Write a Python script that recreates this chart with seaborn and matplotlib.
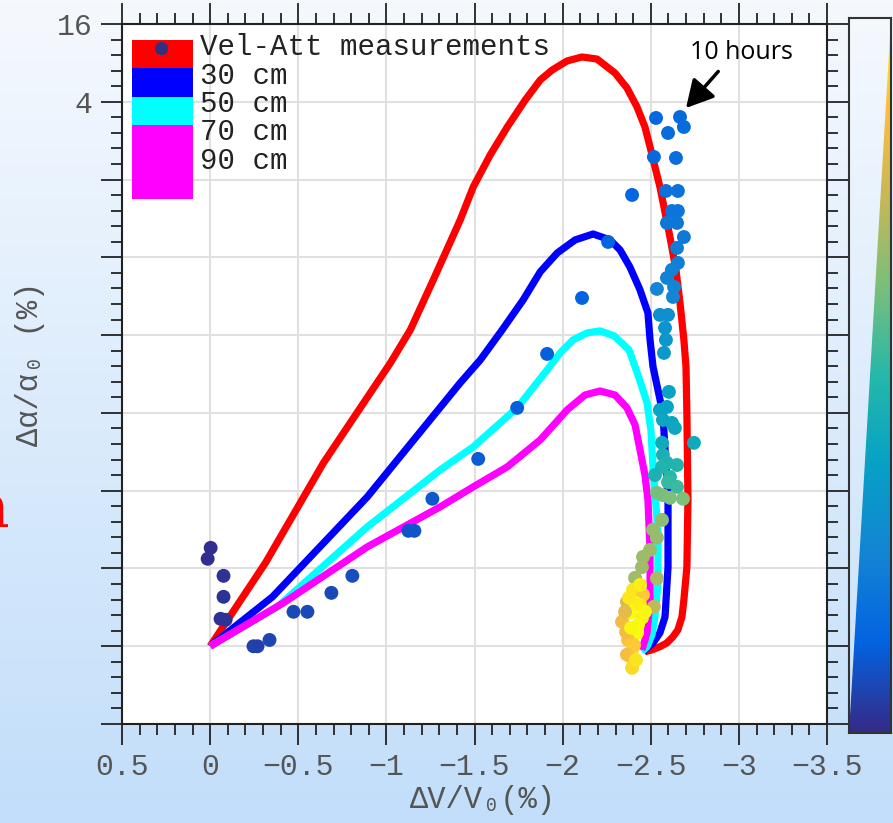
import numpy as np
import matplotlib
matplotlib.use("Agg")
import matplotlib.pyplot as plt
from matplotlib.colors import LinearSegmentedColormap
from matplotlib.patches import Rectangle, Polygon
from matplotlib.ticker import FixedLocator, FixedFormatter
import seaborn as sns

plt.rcParams['font.family'] = ['Liberation Mono', 'DejaVu Sans Mono']

W, H = 893, 823

# ---- model curves (dV/V0 in %, da/a0 in %) ----
red_x = [0.0, -0.314, -0.643, -1.023, -1.136, -1.266, -1.419, -1.493, -1.589, -1.686,
         -1.788, -1.873, -1.941, -2.025, -2.110, -2.195, -2.297, -2.365, -2.422, -2.467,
         -2.496, -2.552, -2.609, -2.643, -2.666, -2.688, -2.700, -2.705, -2.711, -2.705,
         -2.688, -2.677, -2.654, -2.626, -2.592, -2.552, -2.507, -2.467]
red_y = [2.44e-4, 1.08e-3, 6.41e-3, 0.0381, 0.0686, 0.167, 0.487, 0.877, 1.550, 2.553,
         4.13, 5.90, 7.05, 8.28, 8.89, 8.57, 6.68, 5.12, 3.65, 2.553,
         1.79, 0.877, 0.359, 0.200, 0.111, 0.0574, 0.0355, 0.0155, 3.31e-3, 1.0e-3,
         5.58e-4, 4.12e-4, 3.27e-4, 2.89e-4, 2.59e-4, 2.42e-4, 2.29e-4, 2.21e-4]

blue_x = [0.0, -0.354, -0.892, -1.419, -1.533, -1.657, -1.776, -1.873, -1.969, -2.071,
          -2.173, -2.269, -2.326, -2.382, -2.439, -2.484, -2.496, -2.513, -2.569, -2.598,
          -2.598, -2.581, -2.552, -2.513, -2.456]
blue_y = [2.44e-4, 5.89e-4, 3.50e-3, 0.0267, 0.0402, 0.0686, 0.117, 0.193, 0.270, 0.341,
          0.379, 0.341, 0.285, 0.210, 0.140, 0.0929, 0.0574, 0.0355, 0.0155, 3.31e-3,
          1.0e-3, 4.12e-4, 3.10e-4, 2.59e-4, 2.21e-4]

cyan_x = [0.0, -0.382, -0.892, -1.306, -1.493, -1.742, -1.912, -1.986, -2.059, -2.139,
          -2.212, -2.292, -2.377, -2.433, -2.479, -2.501, -2.513, -2.541, -2.541, -2.524,
          -2.507, -2.479, -2.450]
cyan_y = [2.44e-4, 4.93e-4, 2.05e-3, 5.66e-3, 8.53e-3, 0.0171, 0.0336, 0.0455, 0.0574, 0.0650,
          0.0674, 0.0617, 0.0480, 0.0292, 0.0187, 0.0115, 5.97e-3, 1.84e-3, 7.56e-4, 4.12e-4,
          2.99e-4, 2.42e-4, 2.21e-4]

mag_x = [0.0, -0.416, -0.892, -1.306, -1.493, -1.686, -1.873, -2.026, -2.127, -2.212,
         -2.297, -2.365, -2.411, -2.439, -2.467, -2.484, -2.496, -2.496, -2.479, -2.450]
mag_y = [2.44e-4, 5.29e-4, 1.435e-3, 2.93e-3, 4.18e-3, 5.97e-3, 9.66e-3, 0.0165, 0.0215, 0.0231,
         0.0215, 0.0171, 0.0126, 8.09e-3, 5.16e-3, 3.31e-3, 1.36e-3, 5.58e-4, 3.10e-4, 2.29e-4]

# ---- velocity-attenuation measurements, coloured by elapsed time (0..1) ----
meas_x = [-0.003, 0.014, -0.076, -0.076, -0.059, -0.088,
          -0.246, -0.269, -0.337, -0.473, -0.552, -0.688, -0.807, -1.125, -1.159, -1.261,
          -1.521, -1.742, -1.912, -2.110, -2.258, -2.394,
          -2.530, -2.666, -2.688, -2.598, -2.518, -2.643, -2.586, -2.654, -2.620, -2.654,
          -2.592, -2.649, -2.688, -2.649, -2.654, -2.620, -2.592, -2.632, -2.535, -2.626,
          -2.552, -2.598, -2.581, -2.586, -2.575,
          -2.603, -2.552, -2.592, -2.569, -2.620, -2.637, -2.564, -2.745, -2.569, -2.592,
          -2.649, -2.564, -2.524, -2.609, -2.598, -2.649,
          -2.535, -2.569, -2.609, -2.683,
          -2.564, -2.513, -2.535, -2.496, -2.456, -2.450, -2.411, -2.535, -2.518,
          -2.399, -2.456, -2.365, -2.411, -2.382, -2.450, -2.337, -2.422, -2.371, -2.394,
          -2.399, -2.394, -2.439, -2.360, -2.405, -2.365, -2.428, -2.377,
          -2.439, -2.354, -2.416, -2.467, -2.388]
meas_y = [1.41e-3, 1.16e-3, 8.56e-4, 5.89e-4, 3.98e-4, 3.91e-4,
          2.44e-4, 2.44e-4, 2.73e-4, 4.51e-4, 4.51e-4, 6.32e-4, 8.56e-4, 1.91e-3, 1.91e-3, 3.38e-3,
          6.88e-3, 0.01709, 0.0447, 0.1212, 0.329, 0.760,
          2.998, 3.05, 2.553, 2.294, 1.496, 1.469, 0.816, 0.816, 0.571, 0.571,
          0.4615, 0.4615, 0.359, 0.2958, 0.2263, 0.1999, 0.1733, 0.1475, 0.1424, 0.1234,
          0.0896, 0.0896, 0.0711, 0.0574, 0.0455,
          0.02273, 0.01649, 0.01738, 0.01379, 0.01307, 0.01194, 0.00916, 0.00916, 0.00739, 0.00641,
          0.00617, 0.00597, 0.00516, 0.00499, 0.00455, 0.00418,
          0.00376, 0.00360, 0.00344, 0.00338,
          0.00232, 0.00195, 0.00169, 0.00136, 0.00120, 0.00100, 8.26e-4, 8.2e-4, 4.93e-4,
          6.67e-4, 6.10e-4, 5.38e-4, 5.29e-4, 4.43e-4, 4.05e-4, 3.78e-4, 3.10e-4, 2.73e-4, 2.29e-4,
          1.91e-4, 1.66e-4, 5.10e-4, 3.15e-4, 2.49e-4, 2.10e-4, 3.58e-4, 5.79e-4,
          7.28e-4, 4.51e-4, 1.91e-4, 4.51e-4, 3.39e-4]
meas_t = [0.01, 0.01, 0.02, 0.02, 0.02, 0.02,
          0.05, 0.05, 0.06, 0.07, 0.07, 0.07, 0.08, 0.09, 0.09, 0.10,
          0.11, 0.12, 0.12, 0.13, 0.13, 0.14,
          0.14, 0.15, 0.16, 0.16, 0.15, 0.17, 0.18, 0.18, 0.19, 0.19,
          0.20, 0.20, 0.21, 0.22, 0.23, 0.24, 0.24, 0.25, 0.25, 0.26,
          0.30, 0.30, 0.32, 0.33, 0.34,
          0.38, 0.39, 0.39, 0.40, 0.40, 0.41, 0.42, 0.42, 0.45, 0.47,
          0.48, 0.48, 0.46, 0.50, 0.52, 0.53,
          0.62, 0.62, 0.63, 0.63,
          0.66, 0.67, 0.67, 0.68, 0.68, 0.69, 0.69, 0.70, 0.74,
          0.95, 0.90, 0.78, 1.00, 1.00, 0.98, 0.85, 1.00, 0.88, 0.92,
          0.93, 0.93, 0.97, 0.85, 0.90, 0.86, 1.00, 0.96,
          0.97, 0.82, 0.95, 0.99, 0.99]

x_ticks = [0.5, 0.0, -0.5, -1.0, -1.5, -2.0, -2.5, -3.0, -3.5]
x_labels = ['0.5', '0', '\u22120.5', '\u22121', '\u22121.5', '\u22122', '\u22122.5', '\u22123', '\u22123.5']
y_exps = list(range(-7, 3))
y_labels = [''] * 8 + ['4', '16']

legend_labels = ['Vel-Att measurements', '30 cm', '50 cm', '70 cm', '90 cm']

parula = LinearSegmentedColormap.from_list('parula', [
    (0.000, (0.208, 0.166, 0.529)),
    (0.125, (0.012, 0.388, 0.882)),
    (0.250, (0.078, 0.520, 0.831)),
    (0.375, (0.024, 0.631, 0.776)),
    (0.500, (0.149, 0.722, 0.666)),
    (0.625, (0.478, 0.749, 0.482)),
    (0.750, (0.780, 0.722, 0.341)),
    (0.875, (0.990, 0.745, 0.240)),
    (1.000, (0.976, 0.983, 0.054)),
])

fig = plt.figure(figsize=(W / 100, H / 100), dpi=100)


def fx(px):
    return px / W


def fy(py):
    return 1 - py / H


# soft vertical background gradient
bg = fig.add_axes([0, 0, 1, 1], zorder=-10)
bg.imshow(np.linspace(0, 1, 256).reshape(-1, 1), aspect='auto', origin='upper',
          extent=[0, 1, 0, 1],
          cmap=LinearSegmentedColormap.from_list('bg', ['#f5f9fe', '#c2defa']))
bg.set_axis_off()

ax = fig.add_axes([fx(122), fy(724), (827 - 122) / W, (724 - 24) / H])
ax.set_facecolor('white')

for xs, ys, col in [(red_x, red_y, '#ff0000'), (blue_x, blue_y, '#0000ff'),
                    (cyan_x, cyan_y, '#00ffff'), (mag_x, mag_y, '#ff00ff')]:
    sns.lineplot(x=xs, y=ys, sort=False, estimator=None, color=col, lw=5.2,
                 solid_capstyle='butt', solid_joinstyle='round', ax=ax, zorder=3)

sns.scatterplot(x=meas_x, y=meas_y, hue=meas_t, palette=parula, hue_norm=(0, 1),
                s=100, linewidth=0, legend=False, ax=ax, zorder=5)

ax.set_yscale('log', base=4)
ax.set_xlim(0.5, -3.5)
ax.set_ylim(4.0 ** -7, 16)

ax.xaxis.set_major_locator(FixedLocator(x_ticks))
ax.xaxis.set_major_formatter(FixedFormatter(x_labels))
ax.xaxis.set_minor_locator(FixedLocator(np.round(np.arange(-3.5, 0.51, 0.1), 2)))
ax.yaxis.set_major_locator(FixedLocator([4.0 ** k for k in y_exps]))
ax.yaxis.set_major_formatter(FixedFormatter(y_labels))
ax.yaxis.set_minor_locator(FixedLocator([4.0 ** (k + j / 5) for k in y_exps[:-1] for j in range(1, 5)]))
ax.yaxis.set_minor_formatter(FixedFormatter([]))

ax.tick_params(which='major', direction='out', length=15, width=1.3, color='#222222',
               top=True, right=True, labelsize=21.5, labelcolor='#555555', pad=6)
ax.tick_params(which='minor', direction='out', length=8, width=1.3, color='#222222',
               top=True, right=True)
ax.grid(which='major', color='#e0e0e0', lw=1.5)
ax.set_axisbelow(True)
for s in ax.spines.values():
    s.set_color('#222222')
    s.set_linewidth(1.5)
ax.set_xlabel('')
ax.set_ylabel('')

# axis titles
fig.text(fx(483), fy(800), '\u0394V/V\u2080(%)', ha='center', va='center',
         fontsize=22, color='#555555')
fig.text(fx(30), fy(364), '\u0394\u03b1/\u03b1\u2080 (%)', ha='center', va='center',
         rotation=90, fontsize=22, color='#555555')

# legend block
sw_colors = ['#ff0000', '#0000ff', '#00ffff', '#ff00ff']
sw_edges = [40, 68, 97, 125, 199]
for i, col in enumerate(sw_colors):
    ax.add_patch(Rectangle((fx(132), fy(sw_edges[i + 1])), (193 - 132) / W,
                           (sw_edges[i + 1] - sw_edges[i]) / H,
                           transform=fig.transFigure, color=col, lw=0, zorder=8))
ax.plot([fx(161)], [fy(48)], 'o', ms=8.5, color='#33307f', transform=fig.transFigure,
        zorder=9)
for i, lab in enumerate(legend_labels):
    fig.text(fx(200), fy(55 + 28.5 * i), lab, ha='left', va='baseline', fontsize=21,
             color='#222222')

ax.annotate('10 hours', xy=(-2.700, 3.58), xytext=(-3.017, 9.71), textcoords='data',
            ha='center', va='center', fontsize=18, family=['Open Sans', 'DejaVu Sans'],
            color='black',
            arrowprops=dict(arrowstyle='-|>,head_width=0.5,head_length=0.92', color='black',
                            lw=2.5, shrinkA=4, shrinkB=0, relpos=(0.33, 0.0)))

# clipped glyph at the left edge
fig.text(fx(10), fy(527), 'n', color='red', fontsize=42, family='DejaVu Serif',
         ha='right', va='baseline')

# wedge-shaped time colour bar
cax = fig.add_axes([fx(849), fy(733), (891 - 849) / W, (733 - 18) / H])
cax.set_facecolor('none')
im = cax.imshow(np.linspace(0, 1, 256).reshape(-1, 1), aspect='auto', origin='lower',
                extent=[0, 1, 0, 1], cmap=parula)
im.set_clip_path(Polygon([[0, 0], [1, 0], [1, 1]], closed=True, transform=cax.transData))
cax.set_xlim(0, 1)
cax.set_ylim(0, 1)
cax.set_xticks([])
cax.set_yticks([])
for s in cax.spines.values():
    s.set_color('#333333')
    s.set_linewidth(1.5)

fig.savefig('out.png', dpi=100)
